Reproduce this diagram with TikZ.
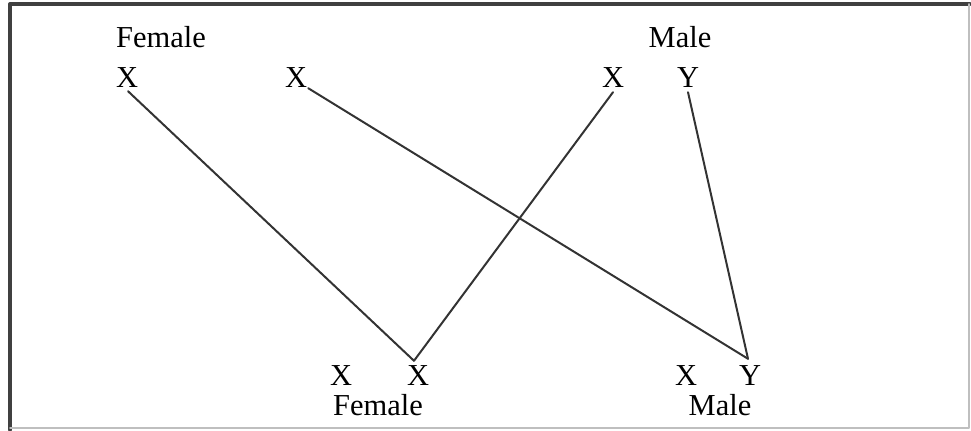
\documentclass[tikz,border=0pt]{standalone}
\usepackage{fontspec}
\setmainfont{Liberation Serif}
\usepackage{tikz}
\usetikzlibrary{calc}

\tikzset{
  gene/.style={inner sep=0pt, font=\fontsize{26}{30}\selectfont},
  sexlabel/.style={inner sep=0pt, font=\fontsize{26}{30}\selectfont},
  cross/.style={line width=1.7pt, line cap=round, color=black!80}
}

\begin{document}
\begin{tikzpicture}[x=0.03cm, y=-0.03cm, line cap=round, line join=round]
			\useasboundingbox (0,0) rectangle (971,431);
			% frame
			\draw[line width=2.8pt, black!75] (10,430)--(10,4)--(970,4);
			\draw[line width=1.4pt, black!25] (10,428)--(969,428)--(969,4);
			% parents
			\node[sexlabel] (pf) at (161,37) {Female};
			\node[sexlabel] (pm) at (680,37) {Male};
			\node[gene] (fa) at (127,78) {X};
			\node[gene] (fb) at (296,78) {X};
			\node[gene] (ma) at (613,78) {X};
			\node[gene] (mb) at (688,78) {Y};
			% offspring
			\node[gene] (da) at (341,376) {X};
			\node[gene] (db) at (418,376) {X};
			\node[sexlabel] (od) at (378,405) {Female};
			\node[gene] (sa) at (686,376) {X};
			\node[gene] (sb) at (750,376) {Y};
			\node[sexlabel] (os) at (720,405) {Male};
			% crossing lines
			\coordinate (jd) at ($(db.north)+(-4,-5)$);
			\coordinate (js) at ($(sb.north)+(-2,-7)$);
			\draw[cross] ($(fa.south)+(1,3)$)--(jd);
			\draw[cross] ($(ma.south)+(0,4)$)--(jd);
			\draw[cross] ($(fb.south east)+(1,0)$)--(js);
			\draw[cross] ($(mb.south)+(0,4)$)--(js);
		\end{tikzpicture}
\end{document}
